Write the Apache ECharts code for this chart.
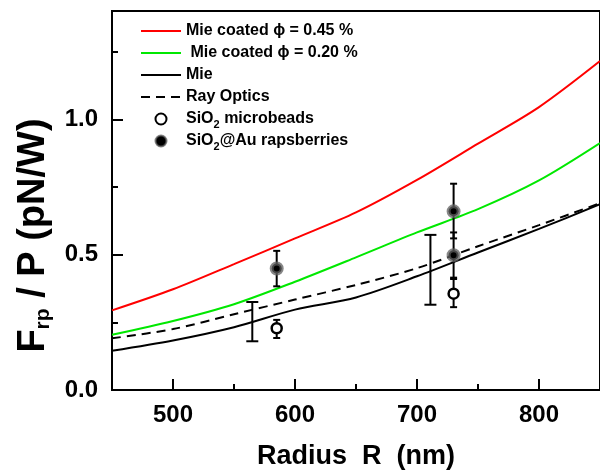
<!DOCTYPE html>
<html>
<head>
<meta charset="utf-8">
<script src="https://cdn.jsdelivr.net/npm/echarts@6/dist/echarts.min.js"></script>
<style>
  html, body { margin: 0; padding: 0; background: #fff; }
  #chart { width: 600px; height: 475px; }
</style>
</head>
<body>
<div id="chart"></div>
<script>
// curves (radius in nm, force per power in pN/W)
var radius = [450, 500, 550, 600, 650, 700, 750, 800, 850];
var mieCoated45 = [0.294, 0.372, 0.465, 0.56, 0.656, 0.776, 0.91, 1.045, 1.215];
var mieCoated20 = [0.204, 0.255, 0.317, 0.40, 0.49, 0.582, 0.668, 0.774, 0.912];
var mie = [0.145, 0.183, 0.232, 0.297, 0.342, 0.42, 0.508, 0.595, 0.686];
var rayOptics = [0.191, 0.225, 0.28, 0.334, 0.388, 0.45, 0.531, 0.609, 0.69];

// measured points
var beadsR = [585, 730];
var beadsF = [0.228, 0.356];
var beadsLow = [0.192, 0.306];
var beadsHigh = [0.259, 0.41];

var berriesR = [585, 730, 730];
var berriesF = [0.449, 0.66, 0.498];
var berriesLow = [0.383, 0.56, 0.415];
var berriesHigh = [0.514, 0.762, 0.582];

// ranges with no marker
var rangeR = [565, 711];
var rangeLow = [0.18, 0.315];
var rangeHigh = [0.325, 0.573];

// axis ticks
var xTicks = [500, 600, 700, 800];
var xMinorTicks = [550, 650, 750];
var yTicks = [0, 0.5, 1.0];
var yMinorTicks = [0.25, 0.75, 1.25];

var names = ['Mie coated \u03d5 = 0.45 %', ' Mie coated \u03d5 = 0.20 %', 'Mie', 'Ray Optics',
             'SiO2 microbeads', 'SiO2@Au rapsberries'];

function zip(a, b) {
    return a.map(function (v, i) { return [v, b[i]]; });
}
function zip3(a, b, c) {
    return a.map(function (v, i) { return [v, b[i], c[i]]; });
}

function errorBar(cap, width) {
    return function (params, api) {
        var x = api.value(0);
        var lo = api.coord([x, api.value(1)]);
        var hi = api.coord([x, api.value(2)]);
        var style = {stroke: '#000', lineWidth: width};
        return {
            type: 'group',
            children: [
                {type: 'line', shape: {x1: lo[0], y1: lo[1], x2: hi[0], y2: hi[1]}, style: style},
                {type: 'line', shape: {x1: lo[0] - cap, y1: lo[1], x2: lo[0] + cap, y2: lo[1]}, style: style},
                {type: 'line', shape: {x1: hi[0] - cap, y1: hi[1], x2: hi[0] + cap, y2: hi[1]}, style: style}
            ]
        };
    };
}

var font = '"Liberation Sans", Arial, sans-serif';
var myChart = echarts.init(document.getElementById('chart'));

// the legend draws a symbol on line entries, so the item colour is transparent
var lineSeries = function (name, data, color, type) {
    return {
        name: name,
        type: 'line',
        data: data,
        symbol: 'none',
        smooth: 0.3,
        lineStyle: {color: color, width: 2, type: type || 'solid'},
        itemStyle: {color: 'rgba(0,0,0,0)', borderWidth: 0},
        z: 3
    };
};

var option = {
    animation: false,
    backgroundColor: '#fff',
    grid: {
        left: 112, right: -5, top: 11, bottom: 85,
        show: true, borderColor: '#000', borderWidth: 2
    },
    legend: {
        orient: 'vertical',
        left: 140,
        top: 20,
        padding: 0,
        itemWidth: 40,
        itemHeight: 11,
        itemGap: 0,
        data: names,
        textStyle: {
            fontFamily: font, fontWeight: 'bold', fontSize: 16, color: '#000', lineHeight: 22,
            rich: {
                s: {fontFamily: font, fontWeight: 'bold', fontSize: 11, color: '#000',
                    verticalAlign: 'bottom', lineHeight: 10}
            }
        },
        formatter: function (name) {
            return name.replace('SiO2', 'SiO{s|2}');
        }
    },
    xAxis: [{
        type: 'value',
        min: 450, max: 850,
        name: 'Radius  R  (nm)',
        nameLocation: 'middle',
        nameGap: 53,
        nameTextStyle: {fontFamily: font, fontWeight: 'bold', fontSize: 27, color: '#000'},
        axisLine: {lineStyle: {color: '#000', width: 2}},
        axisTick: {inside: true, length: 11, lineStyle: {color: '#000', width: 2}, customValues: xTicks},
        axisLabel: {fontFamily: font, fontWeight: 'bold', fontSize: 24, color: '#000', margin: 13,
                    customValues: xTicks},
        splitLine: {show: false}
    }, {
        type: 'value',
        min: 450, max: 850,
        position: 'bottom',
        axisLine: {show: false},
        axisTick: {inside: true, length: 6, lineStyle: {color: '#000', width: 2}, customValues: xMinorTicks},
        axisLabel: {show: false},
        splitLine: {show: false}
    }],
    yAxis: [{
        type: 'value',
        min: 0, max: 1.4,
        name: '{m|F}{s|rp}{m| / P (pN/W)}',
        nameLocation: 'middle',
        nameGap: 58,
        nameTextStyle: {
            padding: [0, 70, 0, 0],
            rich: {
                m: {fontFamily: font, fontWeight: 'bold', fontSize: 38, color: '#000', lineHeight: 40},
                s: {fontFamily: font, fontWeight: 'bold', fontSize: 21, color: '#000',
                    lineHeight: 16, verticalAlign: 'bottom'}
            }
        },
        axisLine: {lineStyle: {color: '#000', width: 2}},
        axisTick: {inside: true, length: 11, lineStyle: {color: '#000', width: 2}, customValues: yTicks},
        axisLabel: {fontFamily: font, fontWeight: 'bold', fontSize: 24, color: '#000', margin: 14,
                    customValues: yTicks,
                    formatter: function (v) { return v.toFixed(1); }},
        splitLine: {show: false}
    }, {
        type: 'value',
        min: 0, max: 1.4,
        position: 'left',
        axisLine: {show: false},
        axisTick: {inside: true, length: 6, lineStyle: {color: '#000', width: 2}, customValues: yMinorTicks},
        axisLabel: {show: false},
        splitLine: {show: false}
    }],
    series: [
        lineSeries(names[0], zip(radius, mieCoated45), '#ff0000'),
        lineSeries(names[1], zip(radius, mieCoated20), '#00e800'),
        lineSeries(names[2], zip(radius, mie), '#000000'),
        lineSeries(names[3], zip(radius, rayOptics), '#000000', [9, 6]),
        {
            type: 'custom',
            renderItem: errorBar(6, 2),
            encode: {x: 0, y: [1, 2]},
            data: zip3(rangeR, rangeLow, rangeHigh),
            z: 4
        },
        {
            type: 'custom',
            renderItem: errorBar(3.5, 2),
            encode: {x: 0, y: [1, 2]},
            data: zip3(beadsR, beadsLow, beadsHigh).concat(zip3(berriesR, berriesLow, berriesHigh)),
            z: 4
        },
        {
            name: names[4],
            type: 'scatter',
            data: zip(beadsR, beadsF),
            symbol: 'circle',
            symbolSize: 10,
            itemStyle: {color: '#fff', borderColor: '#000', borderWidth: 2.5, opacity: 1},
            z: 5
        },
        {
            name: names[5],
            type: 'scatter',
            data: zip(berriesR, berriesF),
            symbol: 'circle',
            symbolSize: 10,
            itemStyle: {color: '#000', borderColor: 'rgba(95,95,95,0.75)', borderWidth: 4, opacity: 1},
            z: 5
        }
    ]
};

myChart.setOption(option);
</script>
</body>
</html>
